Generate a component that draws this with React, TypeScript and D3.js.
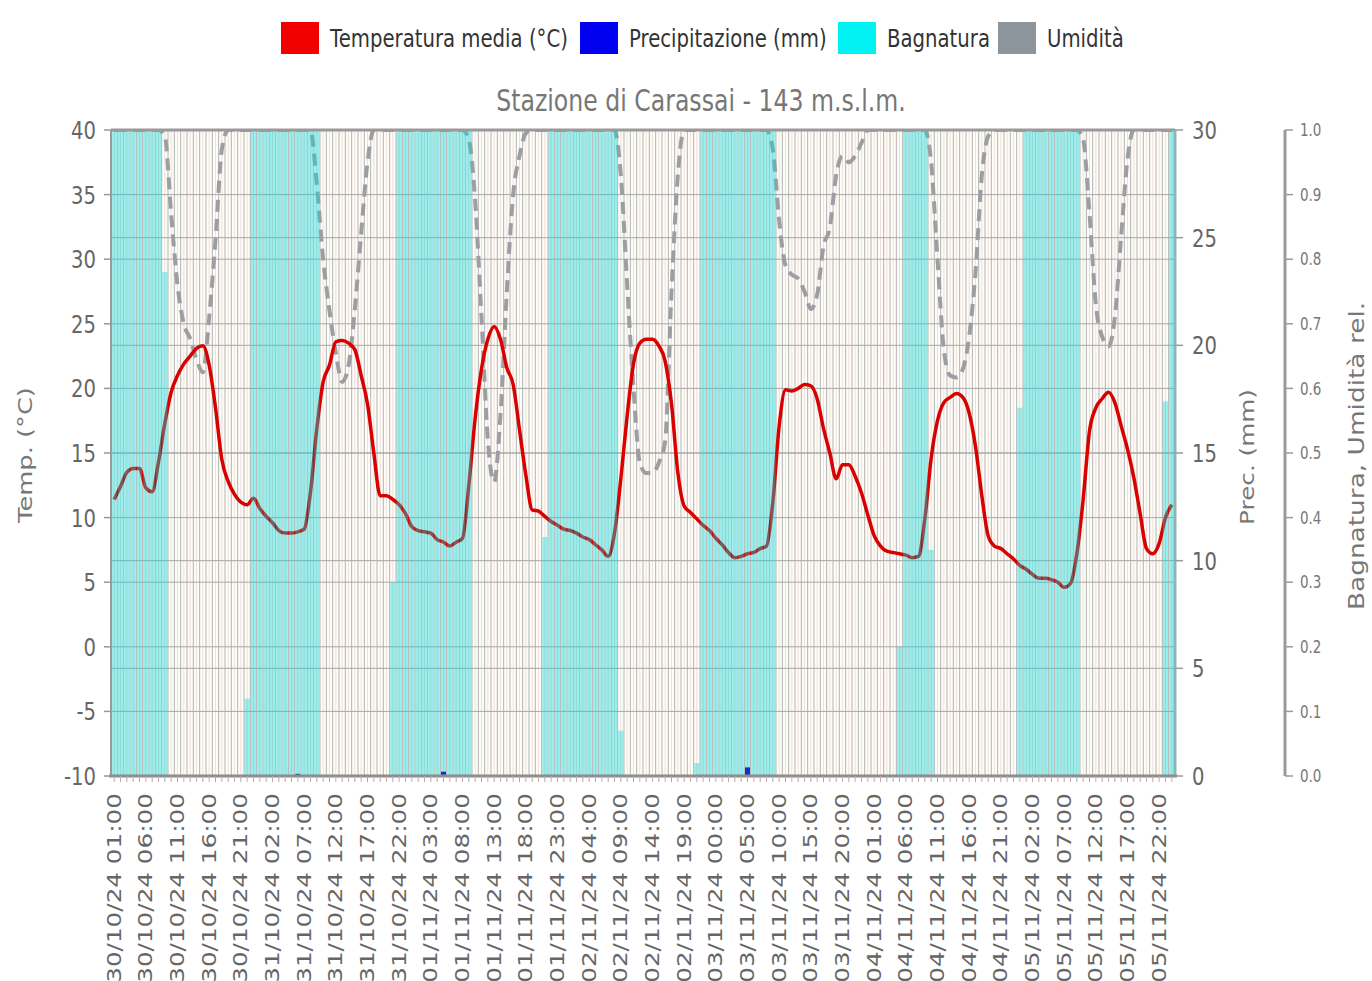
import React from "react";
import * as d3 from "d3";

const W = 1372;
const H = 981;
const PLOT = { left: 111, right: 1175, top: 130, bottom: 776 };
// the reference screenshot is stretched vertically, so every text is too
const STRETCH = 1.3;
const FONT = "'DejaVu Sans', Verdana, sans-serif";

// hourly categories: 30/10/24 01:00 .. 06/11/24 00:00
const START = new Date(2024, 9, 30, 1);
const hours = d3.timeHour.range(START, d3.timeHour.offset(START, 168));
const fmtHour = d3.timeFormat("%d/%m/%y %H:%M");

// Temperatura media (°C), one value per hour, rows of 24
const temperature = [
  11.4, 12.4, 13.5, 13.8, 13.8, 12.3, 12.0, 14.3, 17.3, 19.7, 21.0, 21.9, 22.5, 23.1, 23.3, 21.8, 18.5, 14.5, 12.8, 11.8, 11.2, 11.0, 11.5, 10.7,
  10.1, 9.6, 9.0, 8.8, 8.8, 8.9, 9.1, 12.0, 16.9, 20.5, 21.8, 23.6, 23.7, 23.5, 23.0, 21.0, 18.8, 15.0, 11.7, 11.7, 11.4, 11.0, 10.3, 9.3,
  9.0, 8.9, 8.8, 8.3, 8.1, 7.8, 8.1, 8.4, 12.5, 17.7, 21.5, 23.8, 24.8, 23.8, 21.6, 20.3, 16.8, 13.3, 10.6, 10.5, 10.1, 9.7, 9.4, 9.1,
  9.0, 8.8, 8.5, 8.3, 7.9, 7.5, 7.0, 8.8, 13.0, 17.9, 21.9, 23.5, 23.8, 23.8, 23.3, 22.1, 18.8, 13.5, 10.9, 10.4, 9.9, 9.4, 9.0, 8.4,
  7.9, 7.3, 6.9, 7.0, 7.2, 7.3, 7.6, 7.8, 11.2, 17.1, 19.9, 19.8, 20.0, 20.3, 20.2, 19.2, 16.9, 15.0, 13.0, 14.1, 14.1, 13.2, 11.9, 10.2,
  8.6, 7.8, 7.4, 7.3, 7.2, 7.1, 6.9, 7.0, 9.9, 14.6, 17.5, 18.9, 19.3, 19.6, 19.3, 18.1, 15.5, 11.7, 8.6, 7.8, 7.6, 7.2, 6.8, 6.3,
  6.0, 5.6, 5.3, 5.3, 5.2, 5.0, 4.6, 4.9, 7.2, 11.4, 16.7, 18.5, 19.2, 19.7, 18.9, 17.1, 15.3, 13.1, 10.3, 7.6, 7.2, 8.0, 10.0, 11.0,
];

// Umidità relativa (0..1)
const humidity = [
  1, 1, 1, 1, 1, 1, 1, 1, 0.99, 0.87, 0.76, 0.7, 0.677, 0.645, 0.625, 0.71, 0.83, 0.97, 1, 1, 1, 1, 1, 1,
  1, 1, 1, 1, 1, 1, 1, 1, 0.915, 0.8, 0.72, 0.655, 0.61, 0.635, 0.723, 0.84, 0.95, 1, 1, 1, 1, 1, 1, 1,
  1, 1, 1, 1, 1, 1, 1, 1, 0.985, 0.89, 0.71, 0.52, 0.455, 0.56, 0.75, 0.9, 0.96, 0.995, 1, 1, 1, 1, 1, 1,
  1, 1, 1, 1, 1, 1, 1, 1, 0.93, 0.76, 0.6, 0.485, 0.469, 0.469, 0.485, 0.518, 0.75, 0.93, 1, 1, 1, 1, 1, 1,
  1, 1, 1, 1, 1, 1, 1, 1, 0.97, 0.86, 0.79, 0.776, 0.77, 0.75, 0.723, 0.745, 0.82, 0.849, 0.93, 0.96, 0.95, 0.96, 0.98, 1,
  1, 1, 1, 1, 1, 1, 1, 1, 1, 0.95, 0.8, 0.66, 0.62, 0.617, 0.63, 0.68, 0.78, 0.93, 0.99, 1, 1, 1, 1, 1,
  1, 1, 1, 1, 1, 1, 1, 1, 1, 0.985, 0.87, 0.73, 0.68, 0.665, 0.71, 0.835, 0.955, 1, 1, 1, 1, 1, 1, 1,
];

// Bagnatura fogliare (0..1)
const wetness = [
  1, 1, 1, 1, 1, 1, 1, 1, 0.78, 0, 0, 0, 0, 0, 0, 0, 0, 0, 0, 0, 0, 0.12, 1, 1,
  1, 1, 1, 1, 1, 1, 1, 1, 1, 0, 0, 0, 0, 0, 0, 0, 0, 0, 0, 0, 0.3, 1, 1, 1,
  1, 1, 1, 1, 1, 1, 1, 1, 1, 0, 0, 0, 0, 0, 0, 0, 0, 0, 0, 0, 0.37, 1, 1, 1,
  1, 1, 1, 1, 1, 1, 1, 1, 0.07, 0, 0, 0, 0, 0, 0, 0, 0, 0, 0, 0, 0.02, 1, 1, 1,
  1, 1, 1, 1, 1, 1, 1, 1, 1, 0, 0, 0, 0, 0, 0, 0, 0, 0, 0, 0, 0, 0, 0, 0,
  0, 0, 0, 0, 0.2, 1, 1, 1, 1, 0.35, 0, 0, 0, 0, 0, 0, 0, 0, 0, 0, 0, 0, 0, 0.57,
  1, 1, 1, 1, 1, 1, 1, 1, 1, 0, 0, 0, 0, 0, 0, 0, 0, 0, 0, 0, 0, 0, 0.58, 1,
];

// Precipitazione (mm)
const precipitation = [
  0, 0, 0, 0, 0, 0, 0, 0, 0, 0, 0, 0, 0, 0, 0, 0, 0, 0, 0, 0, 0, 0, 0, 0,
  0, 0, 0, 0, 0, 0.1, 0, 0, 0, 0, 0, 0, 0, 0, 0, 0, 0, 0, 0, 0, 0, 0, 0, 0,
  0, 0, 0, 0, 0.2, 0, 0, 0, 0, 0, 0, 0, 0, 0, 0, 0, 0, 0, 0, 0, 0, 0, 0, 0,
  0, 0, 0, 0, 0, 0, 0, 0, 0, 0, 0, 0, 0, 0, 0, 0, 0, 0, 0, 0, 0, 0, 0, 0,
  0, 0, 0, 0, 0.4, 0, 0, 0, 0, 0, 0, 0, 0, 0, 0, 0, 0, 0, 0, 0, 0, 0, 0, 0,
  0, 0, 0, 0, 0, 0, 0, 0, 0, 0, 0, 0, 0, 0, 0, 0, 0, 0, 0, 0, 0, 0, 0, 0,
  0, 0, 0, 0, 0, 0, 0, 0, 0, 0, 0, 0, 0, 0, 0, 0, 0, 0, 0, 0, 0, 0, 0, 0,
];

const tempTicks = [-10, -5, 0, 5, 10, 15, 20, 25, 30, 35, 40];
const precTicks = [0, 5, 10, 15, 20, 25, 30];
const relTicks = [0, 0.1, 0.2, 0.3, 0.4, 0.5, 0.6, 0.7, 0.8, 0.9, 1.0];

const legendItems = [
  { label: "Temperatura media (°C)", color: "#f00000", x: 281 },
  { label: "Precipitazione (mm)", color: "#0000ee", x: 580 },
  { label: "Bagnatura", color: "#00f2f2", x: 838 },
  { label: "Umidità", color: "#8c949c", x: 998 },
];

function SText({ x, y, rotate = 0, size, anchor = "start", baseline = "central", fill, children }: any) {
  const t = `translate(${x},${y}) scale(1,${STRETCH})${rotate ? ` rotate(${rotate})` : ""}`;
  return (
    <text transform={t} fontSize={size} textAnchor={anchor} dominantBaseline={baseline} fill={fill} fontFamily={FONT}>
      {children}
    </text>
  );
}

export default function App() {
  const x = d3.scaleBand<number>().domain(d3.range(hours.length)).range([PLOT.left, PLOT.right]).padding(0);
  const bw = x.bandwidth();
  const cx = (i: number) => (x(i) as number) + bw / 2;
  const yT = d3.scaleLinear().domain([-10, 40]).range([PLOT.bottom, PLOT.top]);
  const yP = d3.scaleLinear().domain([0, 30]).range([PLOT.bottom, PLOT.top]);
  const yR = d3.scaleLinear().domain([0, 1]).range([PLOT.bottom, PLOT.top]);

  const tempLine = d3.line<number>().x((_, i) => cx(i)).y((d) => yT(d)).curve(d3.curveMonotoneX);
  const humLine = d3.line<number>().x((_, i) => cx(i)).y((d) => yR(d)).curve(d3.curveMonotoneX);

  const plotW = PLOT.right - PLOT.left;
  const plotH = PLOT.bottom - PLOT.top;
  const RAX = 1285; // third axis

  return (
    <svg width={W} height={H} style={{ position: "absolute", left: 0, top: 0, background: "#fff" }}>
      <defs>
        <clipPath id="plotClip">
          <rect x={PLOT.left} y={PLOT.top} width={plotW} height={plotH} />
        </clipPath>
      </defs>

      {/* legend */}
      {legendItems.map((d) => (
        <g key={d.label}>
          <rect x={d.x} y={22} width={38} height={32} fill={d.color} />
          <SText x={d.x + 49} y={38} size={19.7} fill="#333">{d.label}</SText>
        </g>
      ))}

      {/* title */}
      <SText x={701} y={100} size={23.6} anchor="middle" fill="#777">Stazione di Carassai - 143 m.s.l.m.</SText>

      {/* plot background and grid */}
      <rect x={PLOT.left} y={PLOT.top} width={plotW} height={plotH} fill="#fefcf7" />
      {hours.map((_, i) => (
        <line key={"c" + i} x1={cx(i)} x2={cx(i)} y1={PLOT.top} y2={PLOT.bottom} stroke="#eee0da" strokeWidth={1} />
      ))}
      {hours.map((_, i) => (
        <line key={"b" + i} x1={x(i)} x2={x(i)} y1={PLOT.top} y2={PLOT.bottom} stroke="#b4b4b4" strokeWidth={1} />
      ))}
      {tempTicks.map((t) => (
        <line key={"ht" + t} x1={PLOT.left} x2={PLOT.right} y1={yT(t)} y2={yT(t)} stroke="#a8a8a8" strokeWidth={1} />
      ))}
      {precTicks.map((t) => (
        <line key={"hp" + t} x1={PLOT.left} x2={PLOT.right} y1={yP(t)} y2={yP(t)} stroke="#a8a8a8" strokeWidth={1} />
      ))}

      <g clipPath="url(#plotClip)">
        <path d={humLine(humidity) || ""} fill="none" stroke="#9c9ea4" strokeWidth={4} strokeDasharray="12,7" />
        <path d={tempLine(temperature) || ""} fill="none" stroke="#d90000" strokeWidth={3.5} />
        {wetness.map((v, i) =>
          v > 0 ? (
            <rect key={"w" + i} x={(x(i) as number) + 0.6} y={yR(v)} width={bw - 1.2} height={PLOT.bottom - yR(v)} fill="rgb(0,218,220)" fillOpacity={0.4} />
          ) : null
        )}
        {precipitation.map((v, i) =>
          v > 0 ? (
            <rect key={"p" + i} x={cx(i) - 2.5} y={yP(v)} width={5} height={PLOT.bottom - yP(v)} fill="#1030c8" />
          ) : null
        )}
      </g>

      {/* borders */}
      <line x1={PLOT.left} x2={PLOT.right} y1={PLOT.top} y2={PLOT.top} stroke="#9a9a9a" strokeWidth={3} />
      <line x1={PLOT.left} x2={PLOT.left} y1={PLOT.top} y2={PLOT.bottom} stroke="#9a9a9a" strokeWidth={2} />
      <line x1={PLOT.right} x2={PLOT.right} y1={PLOT.top} y2={PLOT.bottom} stroke="#8fb4b4" strokeWidth={3} />
      <line x1={PLOT.left - 2} x2={PLOT.right + 2} y1={PLOT.bottom} y2={PLOT.bottom} stroke="#8c8c8c" strokeWidth={3} />

      {/* x ticks */}
      {hours.map((_, i) => (
        <line key={"xt" + i} x1={cx(i)} x2={cx(i)} y1={PLOT.bottom} y2={PLOT.bottom + 6} stroke={i % 2 ? "#c9aaa6" : "#a9a9a9"} strokeWidth={1} />
      ))}
      {hours.map((h, i) =>
        i % 5 === 0 ? (
          <SText key={"xl" + i} x={cx(i)} y={793} rotate={-90} size={19} anchor="end" fill="#666">
            {fmtHour(h)}
          </SText>
        ) : null
      )}

      {/* left axis: temperature */}
      {tempTicks.map((t) => (
        <g key={"lt" + t}>
          <line x1={PLOT.left - 7} x2={PLOT.left} y1={yT(t)} y2={yT(t)} stroke="#999" strokeWidth={1.5} />
          <SText x={96} y={yT(t)} size={19.6} anchor="end" fill="#666">{t}</SText>
        </g>
      ))}
      <SText x={25} y={455} rotate={-90} size={19.8} anchor="middle" fill="#777">Temp. (°C)</SText>

      {/* right axis: precipitation */}
      {precTicks.map((t) => (
        <g key={"rp" + t}>
          <line x1={PLOT.right} x2={PLOT.right + 8} y1={yP(t)} y2={yP(t)} stroke="#999" strokeWidth={1.5} />
          <SText x={1192} y={yP(t)} size={19.6} fill="#666">{t}</SText>
        </g>
      ))}
      <SText x={1248} y={457} rotate={-90} size={19} anchor="middle" fill="#777">Prec. (mm)</SText>

      {/* third axis: bagnatura / umidità */}
      <line x1={RAX} x2={RAX} y1={PLOT.top} y2={PLOT.bottom} stroke="#9a9a9a" strokeWidth={3} />
      {relTicks.map((t) => (
        <g key={"rr" + t}>
          <line x1={RAX} x2={RAX + 8} y1={yR(t)} y2={yR(t)} stroke="#9a9a9a" strokeWidth={1.5} />
          <SText x={RAX + 15} y={yR(t)} size={13.5} fill="#777">{d3.format(".1f")(t)}</SText>
        </g>
      ))}
      <SText x={1357} y={456} rotate={-90} size={20.3} anchor="middle" fill="#777">Bagnatura, Umidità rel.</SText>
    </svg>
  );
}
